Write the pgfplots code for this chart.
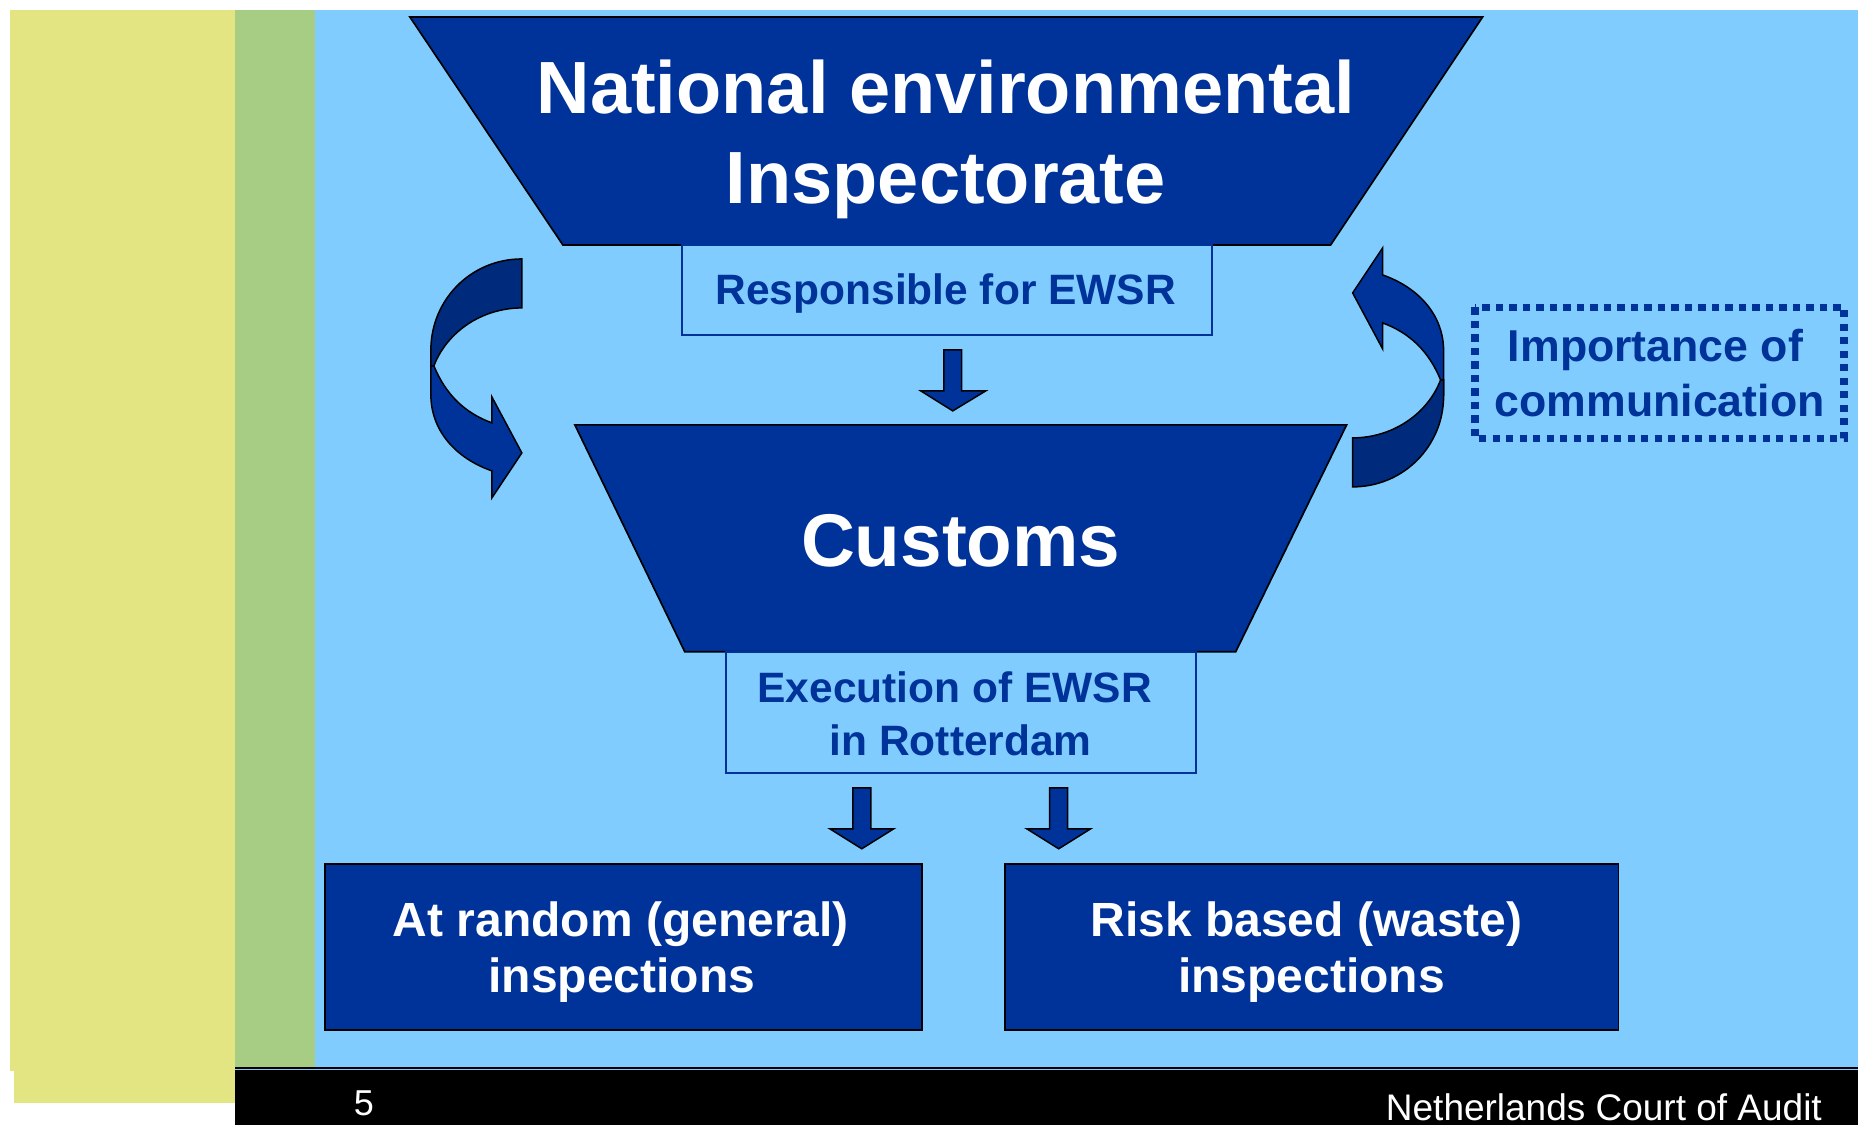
\documentclass[border=0pt]{standalone}
\usepackage{pgfplots}
\pgfplotsset{compat=1.18}
\usepackage{fontspec}
\setmainfont{Liberation Sans}
\definecolor{nblue}{HTML}{003399}
\definecolor{dblue}{HTML}{002A7C}
\definecolor{lblue}{HTML}{80CCFF}
\definecolor{yel}{HTML}{E3E482}
\definecolor{grn}{HTML}{A7CC84}
\begin{document}
\begin{tikzpicture}
\begin{axis}[scale only axis, width=557.4pt, height=337.5pt,
  xmin=0, xmax=1858, ymin=0, ymax=1125, y dir=reverse, hide axis, clip=false]
% backgrounds
\addplot[fill=white, draw=none] coordinates {(0,0)(1858,0)(1858,1125)(0,1125)} --cycle;
\addplot[fill=yel, draw=none] coordinates {(10,10)(235,10)(235,1071)(10,1071)} --cycle;
\addplot[fill=yel, draw=none] coordinates {(14,1071)(235,1071)(235,1103)(14,1103)} --cycle;
\addplot[fill=grn, draw=none] coordinates {(235,10)(315,10)(315,1067)(235,1067)} --cycle;
\addplot[fill=lblue, draw=none] coordinates {(315,10)(1858,10)(1858,1067)(315,1067)} --cycle;
\addplot[fill=black, draw=none] coordinates {(235,1067)(1858,1067)(1858,1125)(235,1125)} --cycle;
\addplot[lblue, line width=0.3pt] coordinates {(235,1069.3)(1858,1069.3)};
% top trapezoid
\addplot[fill=nblue, draw=black, line width=0.5pt] coordinates {(410,17)(1483,17)(1331,245)(563,245)} --cycle;
% responsible box
\addplot[fill=lblue, draw=nblue, line width=0.6pt] coordinates {(682,245)(1212,245)(1212,335)(682,335)} --cycle;
% arrow 1
\addplot[fill=nblue, draw=black, line width=0.45pt] coordinates {(944,350)(962,350)(962,391)(986,391)(953,411)(921,391)(944,391)} --cycle;
% customs trapezoid
\addplot[fill=nblue, draw=black, line width=0.5pt] coordinates {(575,425)(1347,425)(1236,652)(685,652)} --cycle;
% execution box
\addplot[fill=lblue, draw=nblue, line width=0.6pt] coordinates {(726,652)(1196,652)(1196,773)(726,773)} --cycle;
% arrows 2,3
\addplot[fill=nblue, draw=black, line width=0.45pt] coordinates {(853,788)(871,788)(871,829)(894,829)(862,849)(830,829)(853,829)} --cycle;
\addplot[fill=nblue, draw=black, line width=0.45pt] coordinates {(1050,788)(1068,788)(1068,829)(1091,829)(1059,849)(1027,829)(1050,829)} --cycle;
% bottom boxes
\addplot[fill=nblue, draw=black, line width=0.5pt] coordinates {(325,864)(922,864)(922,1030)(325,1030)} --cycle;
\addplot[fill=nblue, draw=black, line width=0.5pt] coordinates {(1005,864)(1619,864)(1619,1030)(1005,1030)} --cycle;
% left curved arrow
\draw[fill=nblue, draw=black, line width=0.45pt] (434,366) .. controls (446,395) and (465,413) .. (492,423) -- (492,397) -- (522,453) -- (492,498) -- (492,471) .. controls (455,458) and (431,430) .. (431,395) -- (431,350) -- cycle;
\draw[fill=dblue, draw=black, line width=0.45pt] (522,259) .. controls (471,259) and (431,300) .. (431,350) -- (431,366) -- (434,366) .. controls (447,332) and (482,308) .. (522,308) -- cycle;
% right curved arrow
\draw[fill=nblue, draw=black, line width=0.45pt] (1441,380) .. controls (1429,351) and (1410,333) .. (1383,323) -- (1383,349) -- (1353,293) -- (1383,248) -- (1383,275) .. controls (1420,288) and (1444,316) .. (1444,351) -- (1444,396) -- cycle;
\draw[fill=dblue, draw=black, line width=0.45pt] (1353,487) .. controls (1404,487) and (1444,446) .. (1444,396) -- (1444,380) -- (1441,380) .. controls (1428,414) and (1393,438) .. (1353,438) -- cycle;
% dotted box
\draw[nblue, line width=2.2pt, dash pattern=on 2.2pt off 1.85pt] (1475.5,307.5) rectangle (1844.5,438.5);
% texts
\begin{scope}[every node/.style={anchor=base, inner sep=0pt}]
\node[text=white, font=\fontsize{22.2}{26}\selectfont\bfseries] at (946,114) {National environmental};
\node[text=white, font=\fontsize{22.2}{26}\selectfont\bfseries] at (946,204) {Inspectorate};
\node[text=white, font=\fontsize{22.4}{26}\selectfont\bfseries] at (961,567) {Customs};
\node[text=nblue, font=\fontsize{12.75}{15}\selectfont\bfseries] at (946,305) {Responsible for EWSR};
\node[text=nblue, font=\fontsize{12.75}{15}\selectfont\bfseries] at (955,703) {Execution of EWSR};
\node[text=nblue, font=\fontsize{12.75}{15}\selectfont\bfseries] at (961,756) {in Rotterdam};
\node[text=nblue, font=\fontsize{13.4}{16}\selectfont\bfseries] at (1656,362) {Importance of};
\node[text=nblue, font=\fontsize{13.4}{16}\selectfont\bfseries] at (1660,417) {communication};
\node[text=white, font=\fontsize{14.4}{17}\selectfont\bfseries] at (621,937) {At random (general)};
\node[text=white, font=\fontsize{14.4}{17}\selectfont\bfseries] at (622,993) {inspections};
\node[text=white, font=\fontsize{14.4}{17}\selectfont\bfseries] at (1307,937) {Risk based (waste)};
\node[text=white, font=\fontsize{14.4}{17}\selectfont\bfseries] at (1312,993) {inspections};
\node[text=white, font=\fontsize{10.8}{13}\selectfont] at (364,1116) {5};
\node[text=white, font=\fontsize{11.1}{13}\selectfont, anchor=base east] at (1823,1121) {Netherlands Court of Audit};
\end{scope}
\end{axis}
\end{tikzpicture}
\end{document}
